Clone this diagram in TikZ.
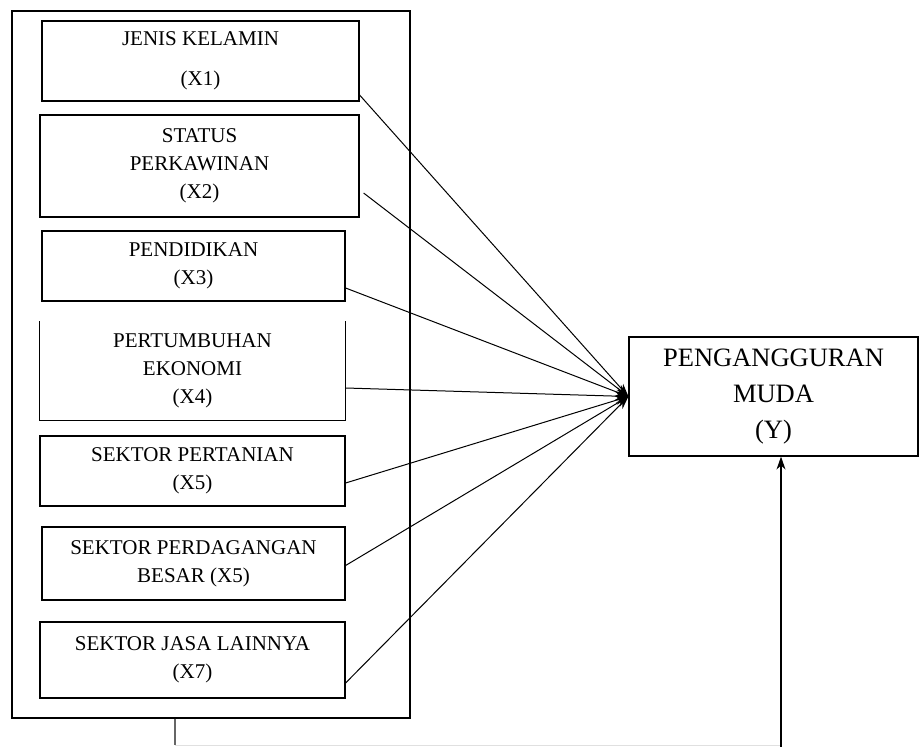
\documentclass[tikz,border=0pt]{standalone}
\usepackage{fontspec}
\setmainfont{Liberation Serif}
\usetikzlibrary{arrows.meta}
\begin{document}
\begin{tikzpicture}[x=1pt,y=-1pt,>={Stealth[length=13pt,width=9pt]},
  var/.style={line width=1.2pt,inner sep=0pt,align=center,text=black,font=\fontsize{21}{28}\selectfont},
  hub/.style={line width=1pt,->}]
\useasboundingbox (0,0) rectangle (919,747);
% kotak besar variabel bebas
\node[draw,line width=1.2pt,minimum width=398pt,minimum height=707pt] (luar) at (211,364.5) {};
\node[var,draw,minimum width=317pt,minimum height=80pt] (x1) at (200.5,61) {JENIS KELAMIN\\[12pt](X1)};
\node[var,draw,minimum width=319pt,minimum height=102pt] (x2) at (199.5,166) {STATUS\\PERKAWINAN\\(X2)};
\node[var,draw,minimum width=303pt,minimum height=70pt] (x3) at (193.5,266) {PENDIDIKAN\\(X3)};
\node[var,minimum width=305pt,minimum height=98pt] (x4) at (192.5,371) {PERTUMBUHAN\\EKONOMI\\(X4)};
\draw[line width=1.3pt] (x4.north west)--(x4.south west)--(x4.south east)--(x4.north east);
\node[var,draw,minimum width=305pt,minimum height=70pt] (x5) at (192.5,471) {SEKTOR PERTANIAN\\(X5)};
\node[var,draw,minimum width=303pt,minimum height=73pt] (x6) at (193.5,563.5) {SEKTOR PERDAGANGAN\\BESAR (X5)};
\node[var,draw,minimum width=305pt,minimum height=76pt] (x7) at (192.5,660) {SEKTOR JASA LAINNYA\\(X7)};
% variabel terikat
\node[var,draw,minimum width=289pt,minimum height=119pt,font=\fontsize{26.5}{36}\selectfont] (y) at (773.5,396.5) {PENGANGGURAN\\MUDA\\(Y)};
\draw[hub] ([yshift=-34pt]x1.east)--(y.west);
\draw[hub] ([xshift=4pt,yshift=-27pt]x2.east)--(y.west);
\draw[hub] ([yshift=-22pt]x3.east)--(y.west);
\draw[hub] ([yshift=-17pt]x4.east)--(y.west);
\draw[hub] ([yshift=-12pt]x5.east)--(y.west);
\draw[hub] ([yshift=-2pt]x6.east)--(y.west);
\draw[hub] ([yshift=-23pt]x7.east)--(y.west);
% garis bawah
\coordinate (kiri) at (175,745);
\coordinate (kanan) at (781,745);
\draw[line width=1.5pt,black!60] (luar.south -| kiri)--(kiri);
\draw[line width=0.8pt,black!12] (kiri)--(kanan);
\draw[line width=1.2pt,->] (kanan |- 0,747)--(y.south -| kanan);
\end{tikzpicture}
\end{document}
